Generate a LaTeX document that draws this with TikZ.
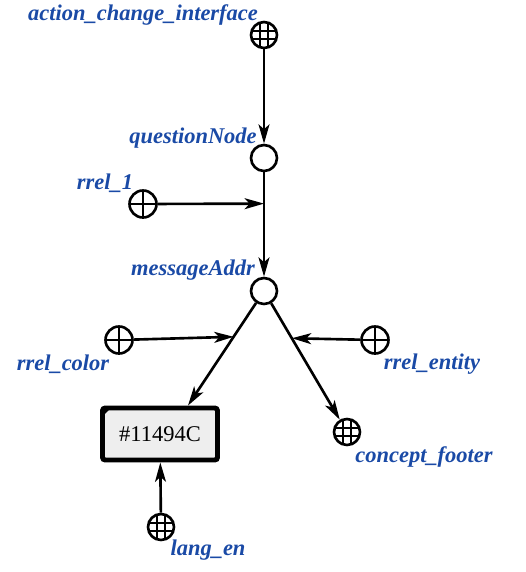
\documentclass[tikz,border=0pt]{standalone}
\usepackage{fontspec}
\setmainfont{Liberation Serif}
\usetikzlibrary{arrows.meta, calc}
\definecolor{labelblue}{HTML}{1A4AA6}
\definecolor{linkfill}{HTML}{EEEEEE}

\begin{document}
\begin{tikzpicture}[
  x=0.02cm, y=-0.02cm,
  every node/.style={font=\fontsize{12.8}{14}\selectfont},
  scnode/.style={
    circle, draw, line width=1.5pt,
    minimum size=0.52cm, inner sep=0pt,
  },
  globe/.style={
    scnode,
    path picture={
      \foreach \d in {-0.08,0.08} {
        \draw[line width=0.9pt] ([xshift=\d cm]path picture bounding box.north) -- ([xshift=\d cm]path picture bounding box.south);
        \draw[line width=0.9pt] ([yshift=\d cm]path picture bounding box.west) -- ([yshift=\d cm]path picture bounding box.east);
      }
    },
  },
  relnode/.style={
    scnode, minimum size=0.54cm,
    path picture={
      \draw[line width=1.1pt] (path picture bounding box.north) -- (path picture bounding box.south);
      \draw[line width=1.1pt] (path picture bounding box.west) -- (path picture bounding box.east);
    },
  },
  linkbox/.style={
    rectangle, draw, line width=2.8pt, rounded corners=1.5pt,
    fill=linkfill, minimum width=2.3cm, minimum height=1.04cm,
  },
  scname/.style={text=labelblue, font=\fontsize{12.8}{14}\selectfont\bfseries\itshape},
  arrow/.style={-{Stealth[length=11pt, width=6.2pt, inset=2.8pt]}, line width=1.5pt},
]
\useasboundingbox (0,0) rectangle (525,572);

% nodes
\node[globe]   (action)  at (264,35)  {};
\node[scnode]  (question) at (264,158) {};
\node[relnode] (rrelone) at (143,204) {};
\node[scnode]  (message) at (264,291) {};
\node[relnode] (rrelcolor) at (119,340) {};
\node[relnode] (rrelentity) at (375,340) {};
\node[linkbox] (colorbox) at (160,434) {\#11494C};
\node[globe]   (footer)  at (347,432) {};
\node[globe]   (langen)  at (161,527) {};

% corner mark of the link
\fill ([shift={(1.3pt,-1.3pt)}]colorbox.north west) -- ++(5pt,0) -- ++(-5pt,-5pt) -- cycle;

% labels
\node[scname] (actionlbl)  at (143,15)  {action\_change\_interface};
\node[scname] (questionlbl) at (193,138) {questionNode};
\node[scname] (rrelonelbl) at (105,183) {rrel\_1};
\node[scname] (messagelbl) at (193,270) {messageAddr};
\node[scname] (rrelcolorlbl) at (63,364) {rrel\_color};
\node[scname] (rrelentitylbl) at (432,364) {rrel\_entity};
\node[scname] (footerlbl)  at (424,457) {concept\_footer};
\node[scname] (langenlbl)  at (208,550) {lang\_en};

% arcs
\draw[arrow] (action) -- (question);
\draw[arrow] (question) -- coordinate[pos=0.3] (onemid) (message);
\draw[arrow] (rrelone) -- (onemid);

\draw[arrow] (message) -- coordinate[pos=0.33] (colormid) ([xshift=0.56cm]colorbox.north);
\draw[arrow] (rrelcolor) -- (colormid);

\draw[arrow] (message) -- coordinate[pos=0.3] (entitymid) (footer);
\draw[arrow] (rrelentity) -- (entitymid);

\draw[arrow] (langen) -- (colorbox);

\end{tikzpicture}
\end{document}
